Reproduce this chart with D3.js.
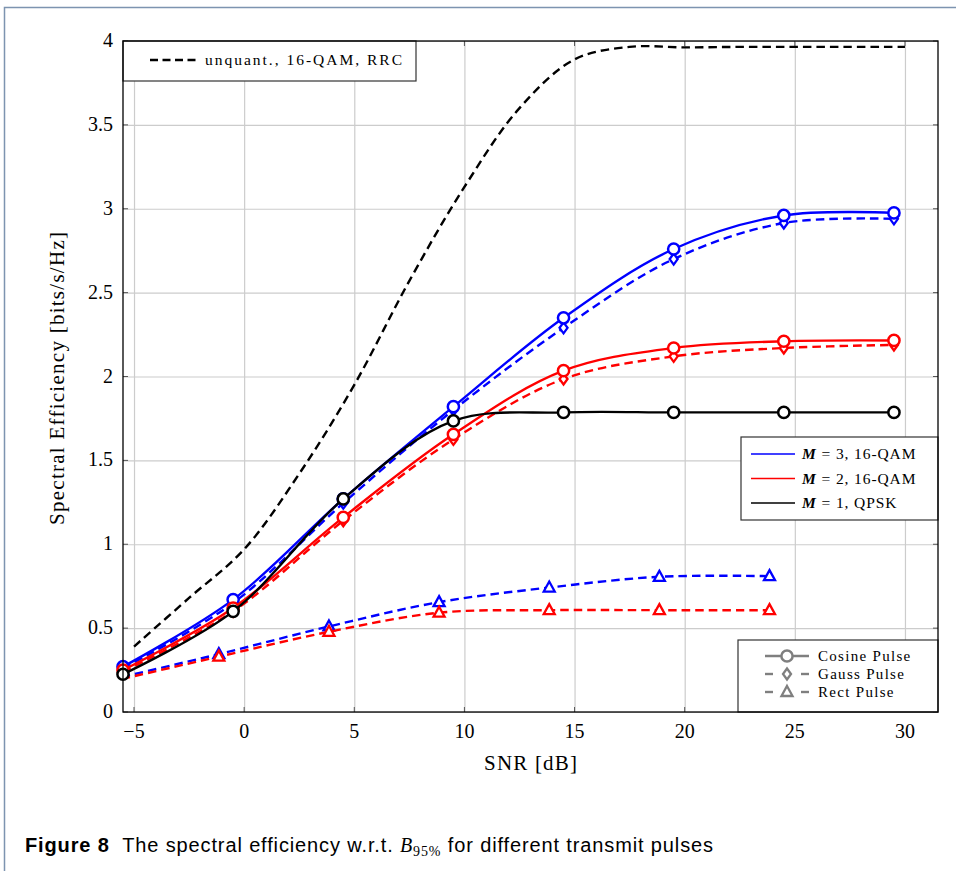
<!DOCTYPE html>
<html>
<head>
<meta charset="utf-8">
<script src="https://cdn.jsdelivr.net/npm/d3@7"></script>
<style>
  body { margin: 0; background: #fff; }
  svg { display: block; }
  text { font-family: "Liberation Serif", "DejaVu Serif", serif; fill: #000; }
  .caption { font-family: "Liberation Sans", Arial, sans-serif; font-size: 20px; }
</style>
</head>
<body>
<svg></svg>
<script>
// SNR values of the sample points
const snrCos = [-5.5, -0.5, 4.5, 9.5, 14.5, 19.5, 24.5, 29.5];
const snrRect = [-6.15, -1.15, 3.85, 8.85, 13.85, 18.85, 23.85];
const snrUnq = [-5, -2.5, 0, 2.5, 5, 7.5, 10, 12.5, 15, 17.5, 20, 22.5, 25, 27.5, 30];

// spectral efficiency [bits/s/Hz]
const unquant = [0.39, 0.68, 0.97, 1.42, 1.95, 2.57, 3.13, 3.60, 3.89, 3.965, 3.962, 3.965, 3.965, 3.965, 3.965];
const cosM3 = [0.27, 0.67, 1.27, 1.82, 2.35, 2.76, 2.96, 2.975];
const cosM2 = [0.25, 0.62, 1.16, 1.655, 2.035, 2.17, 2.21, 2.215];
const cosM1 = [0.225, 0.60, 1.27, 1.735, 1.786, 1.786, 1.786, 1.786];
const gaussM3 = [0.26, 0.65, 1.245, 1.80, 2.29, 2.70, 2.915, 2.94];
const gaussM2 = [0.24, 0.60, 1.14, 1.625, 1.985, 2.12, 2.17, 2.188];
const rectM3 = [0.19, 0.345, 0.51, 0.655, 0.742, 0.806, 0.81];
const rectM2 = [0.178, 0.33, 0.478, 0.592, 0.607, 0.607, 0.607];

const xTicks = [-5, 0, 5, 10, 15, 20, 25, 30];
const xTickLabels = ['\u22125', '0', '5', '10', '15', '20', '25', '30'];
const yTicks = [0, 0.5, 1, 1.5, 2, 2.5, 3, 3.5, 4];
const yTickLabels = ['0', '0.5', '1', '1.5', '2', '2.5', '3', '3.5', '4'];

const svg = d3.select('svg')
  .attr('width', 956)
  .attr('height', 871);

const zip = (xs, ys) => xs.map((x, i) => ({x, y: ys[i]}));

const render = () => {
  const margin = {top: 41, right: 18, bottom: 159, left: 123};
  const innerWidth = 956 - margin.left - margin.right;
  const innerHeight = 871 - margin.top - margin.bottom;

  // page frame
  svg.append('path')
    .attr('d', 'M4.5,871 V7.5 H956')
    .attr('fill', 'none')
    .attr('stroke', '#7d94b0')
    .attr('stroke-width', 1.5);

  const xScale = d3.scaleLinear().domain([-5.5, 31.5]).range([0, innerWidth]);
  const yScale = d3.scaleLinear().domain([0, 4]).range([innerHeight, 0]);

  const g = svg.append('g')
    .attr('transform', `translate(${margin.left},${margin.top})`);

  g.append('clipPath').attr('id', 'plot-clip')
    .append('rect').attr('width', innerWidth).attr('height', innerHeight);

  // grid
  const xAxis = d3.axisBottom(xScale).tickValues(xTicks).tickSize(innerHeight).tickFormat('');
  const yAxis = d3.axisLeft(yScale).tickValues(yTicks).tickSize(-innerWidth).tickFormat('');
  const xGrid = g.append('g').call(xAxis);
  const yGrid = g.append('g').call(yAxis);
  [xGrid, yGrid].forEach(a => {
    a.select('.domain').remove();
    a.selectAll('line').attr('stroke', '#cccccc').attr('stroke-width', 1.2);
  });

  // tick marks on all four sides
  const tickLen = 5;
  const ticks = g.append('g').attr('stroke', '#555').attr('stroke-width', 1);
  xTicks.forEach(t => {
    ticks.append('line').attr('x1', xScale(t)).attr('x2', xScale(t)).attr('y1', innerHeight).attr('y2', innerHeight - tickLen);
    ticks.append('line').attr('x1', xScale(t)).attr('x2', xScale(t)).attr('y1', 0).attr('y2', tickLen);
  });
  yTicks.forEach(t => {
    ticks.append('line').attr('y1', yScale(t)).attr('y2', yScale(t)).attr('x1', 0).attr('x2', tickLen);
    ticks.append('line').attr('y1', yScale(t)).attr('y2', yScale(t)).attr('x1', innerWidth).attr('x2', innerWidth - tickLen);
  });

  // tick labels
  g.selectAll('.xlab').data(xTicks).enter().append('text')
    .attr('x', d => xScale(d))
    .attr('y', innerHeight + 26)
    .attr('text-anchor', 'middle')
    .attr('font-size', 20)
    .text((d, i) => xTickLabels[i]);
  g.selectAll('.ylab').data(yTicks).enter().append('text')
    .attr('x', -10)
    .attr('y', d => yScale(d) + 6)
    .attr('text-anchor', 'end')
    .attr('font-size', 20)
    .text((d, i) => yTickLabels[i]);

  // axis labels
  g.append('text')
    .attr('x', innerWidth / 2)
    .attr('y', innerHeight + 58)
    .attr('text-anchor', 'middle')
    .attr('font-size', 21)
    .attr('textLength', 93)
    .text('SNR [dB]');
  g.append('text')
    .attr('transform', `translate(-59,${innerHeight / 2 + 2}) rotate(-90)`)
    .attr('text-anchor', 'middle')
    .attr('font-size', 21)
    .attr('textLength', 293)
    .text('Spectral Efficiency [bits/s/Hz]');

  const line = d3.line()
    .x(d => xScale(d.x))
    .y(d => yScale(d.y))
    .curve(d3.curveCatmullRom.alpha(0.5));

  const dash = '8.5,5';
  const lw = 2.4;
  const series = [
    {data: zip(snrUnq, unquant), color: 'black', dashed: true, marker: null},
    {data: zip(snrRect, rectM3), color: 'blue', dashed: true, marker: 'triangle'},
    {data: zip(snrRect, rectM2), color: 'red', dashed: true, marker: 'triangle'},
    {data: zip(snrCos, gaussM3), color: 'blue', dashed: true, marker: 'diamond'},
    {data: zip(snrCos, cosM3), color: 'blue', dashed: false, marker: 'circle'},
    {data: zip(snrCos, gaussM2), color: 'red', dashed: true, marker: 'diamond'},
    {data: zip(snrCos, cosM2), color: 'red', dashed: false, marker: 'circle'},
    {data: zip(snrCos, cosM1), color: 'black', dashed: false, marker: 'circle'}
  ];

  const drawMarker = (sel, type, x, y, color) => {
    if (type === 'circle') {
      sel.append('circle').attr('cx', x).attr('cy', y).attr('r', 5.6)
        .attr('fill', '#fff').attr('stroke', color).attr('stroke-width', 2.5);
    } else if (type === 'diamond') {
      sel.append('path').attr('d', `M${x},${y - 5.5}L${x + 4},${y}L${x},${y + 5.5}L${x - 4},${y}Z`)
        .attr('fill', '#fff').attr('stroke', color).attr('stroke-width', 2.3);
    } else if (type === 'triangle') {
      sel.append('path').attr('d', `M${x},${y - 6}L${x + 5.5},${y + 4}L${x - 5.5},${y + 4}Z`)
        .attr('fill', '#fff').attr('stroke', color).attr('stroke-width', 2.3);
    }
  };

  series.forEach(s => {
    g.append('path')
      .attr('clip-path', 'url(#plot-clip)')
      .attr('d', line(s.data))
      .attr('fill', 'none')
      .attr('stroke', s.color)
      .attr('stroke-width', lw)
      .attr('stroke-dasharray', s.dashed ? dash : null);
    if (s.marker) {
      const mg = g.append('g');
      s.data.filter(d => d.x >= xScale.domain()[0]).forEach(d =>
        drawMarker(mg, s.marker, xScale(d.x), yScale(d.y), s.color));
    }
  });

  // legend: unquantised reference
  const leg1 = g.append('g');
  leg1.append('rect').attr('x', 0).attr('y', 0).attr('width', 293).attr('height', 40)
    .attr('fill', '#fff').attr('stroke', '#333').attr('stroke-width', 1.2);
  leg1.append('line').attr('x1', 27).attr('x2', 73).attr('y1', 19).attr('y2', 19)
    .attr('stroke', 'black').attr('stroke-width', lw).attr('stroke-dasharray', '8,4.5');
  leg1.append('text').attr('x', 82).attr('y', 24).attr('font-size', 15.5)
    .attr('textLength', 197).text('unquant., 16-QAM, RRC');

  // legend: M
  const mLegend = [
    {color: 'blue', m: 3, label: '16-QAM'},
    {color: 'red', m: 2, label: '16-QAM'},
    {color: 'black', m: 1, label: 'QPSK'}
  ];
  const leg2 = g.append('g').attr('transform', `translate(${innerWidth - 197},396)`);
  leg2.append('rect').attr('width', 197).attr('height', 83)
    .attr('fill', '#fff').attr('stroke', '#333').attr('stroke-width', 1.2);
  mLegend.forEach((d, i) => {
    const y = 17 + i * 24.5;
    leg2.append('line').attr('x1', 10).attr('x2', 54).attr('y1', y).attr('y2', y)
      .attr('stroke', d.color).attr('stroke-width', 1.3);
    const t = leg2.append('text').attr('x', 61).attr('y', y + 5).attr('font-size', 15.5)
      .attr('letter-spacing', 0.9);
    t.append('tspan').attr('font-weight', 'bold').attr('font-style', 'italic').text('M');
    t.append('tspan').text(` = ${d.m}, ${d.label}`);
  });

  // legend: pulse shapes
  const pulseLegend = [
    {label: 'Cosine Pulse', marker: 'circle', dashed: false},
    {label: 'Gauss Pulse', marker: 'diamond', dashed: true},
    {label: 'Rect Pulse', marker: 'triangle', dashed: true}
  ];
  const leg3 = g.append('g').attr('transform', `translate(${innerWidth - 200},599)`);
  leg3.append('rect').attr('width', 200).attr('height', 72)
    .attr('fill', '#fff').attr('stroke', '#333').attr('stroke-width', 1.2);
  pulseLegend.forEach((d, i) => {
    const y = 16 + i * 18;
    const lg = leg3.append('g').attr('stroke', '#7f7f7f').attr('stroke-width', lw);
    if (d.dashed) {
      lg.append('line').attr('x1', 27).attr('x2', 35).attr('y1', y).attr('y2', y);
      lg.append('line').attr('x1', 63).attr('x2', 71).attr('y1', y).attr('y2', y);
    } else {
      lg.append('line').attr('x1', 27).attr('x2', 71).attr('y1', y).attr('y2', y);
    }
    drawMarker(leg3, d.marker, 49, y, '#7f7f7f');
    leg3.append('text').attr('x', 80).attr('y', y + 5).attr('font-size', 15)
      .attr('letter-spacing', 1.3).text(d.label);
  });

  // axis box
  g.append('rect').attr('width', innerWidth).attr('height', innerHeight)
    .attr('fill', 'none').attr('stroke', '#000').attr('stroke-width', 1.3);

  // caption
  const cap = svg.append('text').attr('class', 'caption').attr('x', 25).attr('y', 852)
    .attr('textLength', 688);
  cap.append('tspan').attr('font-weight', 'bold').text('Figure 8');
  cap.append('tspan').text('\u00a0 The spectral efficiency w.r.t. ');
  cap.append('tspan').attr('font-family', '"Liberation Serif", serif').attr('font-style', 'italic').text('B');
  cap.append('tspan').attr('font-family', '"Liberation Serif", serif').attr('font-size', 14).attr('dy', 4).text('95%');
  cap.append('tspan').attr('dy', -4).text(' for different transmit pulses');
};

render();
</script>
</body>
</html>
